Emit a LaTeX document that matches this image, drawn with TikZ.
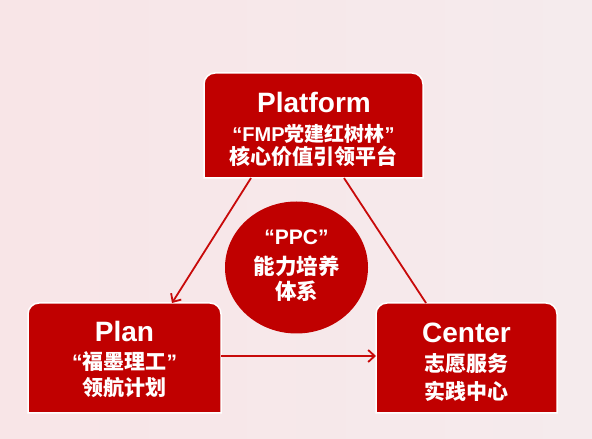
\documentclass[tikz,border=0pt]{standalone}
\usepackage{fontspec}
\setmainfont{Liberation Sans}
\newfontfamily\cjk{Noto Sans CJK SC}
\newcommand\zh[1]{{\cjk #1}}
\usetikzlibrary{arrows.meta,shapes.geometric}
\definecolor{boxred}{RGB}{192,0,0}
\definecolor{linered}{RGB}{200,10,10}
\definecolor{bgleft}{RGB}{248,229,231}
\definecolor{bgright}{RGB}{245,235,237}
\tikzset{
  boxnode/.style={rectangle,inner sep=0pt,outer sep=0pt},
  boxfill/.style={fill=boxred,draw=white,line width=1.5pt},
  latin/.style={text=white,anchor=base,inner sep=0pt,font=\bfseries\fontsize{28}{30}\selectfont},
  zhline/.style={text=white,anchor=base,inner sep=0pt,font=\bfseries\fontsize{21}{23}\selectfont},
  conn/.style={draw=linered,line width=1.8pt},
  arr/.style={conn,-{Straight Barb[length=6.5pt,width=12pt]}}
}
\begin{document}
\begin{tikzpicture}[x=1pt,y=1pt]
\useasboundingbox (0,0) rectangle (592,439);
\shade[left color=bgleft,right color=bgright] (0,0) rectangle (592,439);

% box anchors
\node[boxnode,minimum width=219pt,minimum height=105pt] (Pf) at (313.5,313.5) {};
\node[boxnode,minimum width=193pt,minimum height=110pt] (Pl) at (124.5,81) {};
\node[boxnode,minimum width=181pt,minimum height=110pt] (Ce) at (466.5,81) {};

% rounded-top boxes
\foreach \b in {Pf,Pl,Ce}{
  \path[boxfill] (\b.south west) -- ([yshift=-11pt]\b.north west)
    arc[start angle=180,end angle=90,radius=11pt]
    -- ([xshift=-11pt]\b.north east)
    arc[start angle=90,end angle=0,radius=11pt]
    -- (\b.south east) -- cycle;
}

% circle
\node[ellipse,fill=boxred,inner sep=0pt,minimum width=143pt,minimum height=132pt] (C) at (296.5,171.5) {};

% connectors
\draw[arr] ([xshift=-62.5pt]Pf.south) -- ([xshift=47.5pt]Pl.north);
\draw[conn] ([xshift=30.5pt]Pf.south) -- ([xshift=-40.5pt]Ce.north);
\draw[arr] ([yshift=2pt]Pl.east) -- ([yshift=2pt]Ce.west);

% Platform text
\node[latin] (pf1) at (314,326) {Platform};
\node[zhline,font=\bfseries\fontsize{20}{22}\selectfont] (pf2) at (313.5,297.3) {“FMP\zh{党建红树林}”};
\node[zhline] (pf3) at (313.5,274.5) {\zh{核心价值引领平台}};

% circle text
\node[zhline] (c1) at (296.5,194) {“PPC”};
\node[zhline,font=\bfseries\fontsize{21.5}{23}\selectfont] (c2) at (296.5,164) {\zh{能力培养}};
\node[zhline,font=\bfseries\fontsize{21.5}{23}\selectfont] (c3) at (296.5,139) {\zh{体系}};

% Plan text
\node[latin] (pl1) at (124.5,97) {Plan};
\node[zhline] (pl2) at (124.5,69.5) {“\zh{福墨理工}”};
\node[zhline] (pl3) at (124.5,43) {\zh{领航计划}};

% Center text
\node[latin] (ce1) at (466.5,96) {Center};
\node[zhline] (ce2) at (466.5,67) {\zh{志愿服务}};
\node[zhline] (ce3) at (466.5,39.5) {\zh{实践中心}};
\end{tikzpicture}
\end{document}
